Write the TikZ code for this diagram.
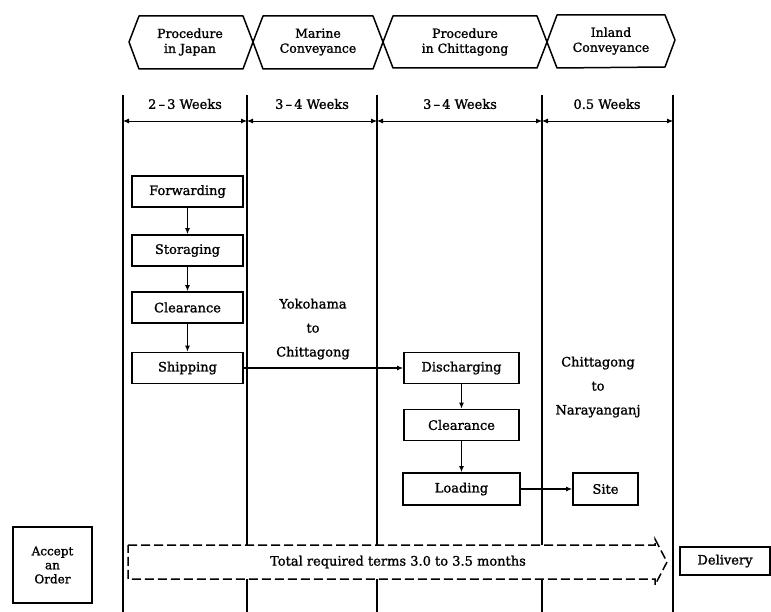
\documentclass[tikz,border=0pt]{standalone}
\usepackage{fontspec}
\setmainfont{DejaVu Serif}[FakeBold=1.2]
\usetikzlibrary{arrows.meta}
\begin{document}
\begin{tikzpicture}[x=1pt,y=-1pt,
  font=\fontsize{13}{15}\selectfont,
  line width=1.2pt,
  >={Latex[length=6pt,width=5pt]},
  procbox/.style={draw,line width=1.6pt,minimum width=111pt,minimum height=31pt,inner sep=0pt},
  hexlabel/.style={align=center,font=\fontsize{12.5}{15}\selectfont},
  weeklabel/.style={font=\fontsize{13}{15}\selectfont},
  routelabel/.style={align=center,font=\fontsize{13}{24}\selectfont},
  hexline/.style={line width=1.5pt,line join=round},
  colline/.style={line width=1.5pt},
  bigarrow/.style={line width=1.5pt,dash pattern=on 9pt off 4pt}]
\useasboundingbox (0,0) rectangle (771,612);
\fill[white] (0,0) rectangle (771,612);

% header hexagons
\draw[hexline] (129,42)--(139,16)--(243,16)--(253,42)--(243,69)--(139,69)--cycle;
\draw[hexline] (253,42)--(263,16)--(373,16)--(383,42)--(373,69)--(263,69)--cycle;
\draw[hexline] (383,42)--(393,16)--(537,16)--(547,42)--(537,68)--(393,68)--cycle;
\draw[hexline] (547,42)--(557,15)--(665,15)--(675,40)--(665,67)--(557,68)--cycle;
\node[hexlabel] (h1) at (190,42) {Procedure\\in Japan};
\node[hexlabel] (h2) at (318,42) {Marine\\Conveyance};
\node[hexlabel] (h3) at (465,42) {Procedure\\in Chittagong};
\node[hexlabel] (h4) at (611,41) {Inland\\Conveyance};

% column lines
\coordinate (c1t) at (123,95); \coordinate (c1b) at (123,612);
\coordinate (c2t) at (247,95); \coordinate (c2m) at (247,545); \coordinate (c2n) at (247,579); \coordinate (c2b) at (247,612);
\coordinate (c3t) at (377,95); \coordinate (c3m) at (377,545); \coordinate (c3n) at (377,579); \coordinate (c3b) at (377,612);
\coordinate (c4t) at (542,95); \coordinate (c4m) at (542,545); \coordinate (c4n) at (542,579); \coordinate (c4b) at (542,612);
\coordinate (c5t) at (673,95); \coordinate (c5b) at (673,612);
\draw[colline] (c1t)--(c1b);
\draw[colline] (c2t)--(c2m) (c2n)--(c2b);
\draw[colline] (c3t)--(c3m) (c3n)--(c3b);
\draw[colline] (c4t)--(c4m) (c4n)--(c4b);
\draw[colline] (c5t)--(c5b);

% durations
\node[weeklabel] (w1) at (185,104) {2\,–\,3 Weeks};
\node[weeklabel] (w2) at (312,104) {3\,–\,4 Weeks};
\node[weeklabel] (w3) at (460,104) {3\,–\,4 Weeks};
\node[weeklabel] (w4) at (607,104) {0.5 Weeks};
\coordinate (a1) at (123,121); \coordinate (a2) at (247,121);
\coordinate (a3) at (377,121); \coordinate (a4) at (542,121); \coordinate (a5) at (673,121);
\draw[<->,line width=0.9pt] (a1)--(a2);
\draw[<->,line width=0.9pt] (a2)--(a3);
\draw[<->,line width=0.9pt] (a3)--(a4);
\draw[<->,line width=0.9pt] (a4)--(a5);

% Japan procedures
\node[procbox] (fwd) at (187.5,191.5) {Forwarding};
\node[procbox] (sto) at (187.5,250.5) {Storaging};
\node[procbox] (clj) at (187.5,307.5) {Clearance};
\node[procbox] (shp) at (187.5,368) {Shipping};
\draw[->] (fwd)--(sto);
\draw[->] (sto)--(clj);
\draw[->] (clj)--(shp);

% Chittagong procedures
\node[procbox,minimum width=115pt] (dis) at (461.5,368) {Discharging};
\node[procbox,minimum width=115pt] (clc) at (461.5,425) {Clearance};
\node[procbox,minimum width=117pt,minimum height=32pt] (lod) at (461.5,489) {Loading};
\node[procbox,minimum width=65pt,minimum height=32pt] (site) at (605.5,489) {Site};
\draw[->] (shp)--(dis);
\draw[->] (dis)--(clc);
\draw[->] (clc)--(lod);
\draw[->] (lod)--(site);

% routes
\node[routelabel] (r1) at (313,329) {Yokohama\\to\\Chittagong};
\node[routelabel] (r2) at (598,387) {Chittagong\\to\\Narayanganj};

% bottom row
\node[draw,line width=1.5pt,minimum width=79pt,minimum height=76pt,align=center,
  font=\fontsize{12}{14}\selectfont] (acc) at (52.5,565) {Accept\\an\\Order};
\draw[bigarrow] (128,545)--(655,545)--(655,539)--(667,562)--(655,585)--(655,579)--(128,579)--cycle;
\node (tot) at (398,562) {Total required terms 3.0 to 3.5 months};
\node[draw,line width=1.5pt,minimum width=90pt,minimum height=28pt] (del) at (725,561) {Delivery};
\end{tikzpicture}
\end{document}
